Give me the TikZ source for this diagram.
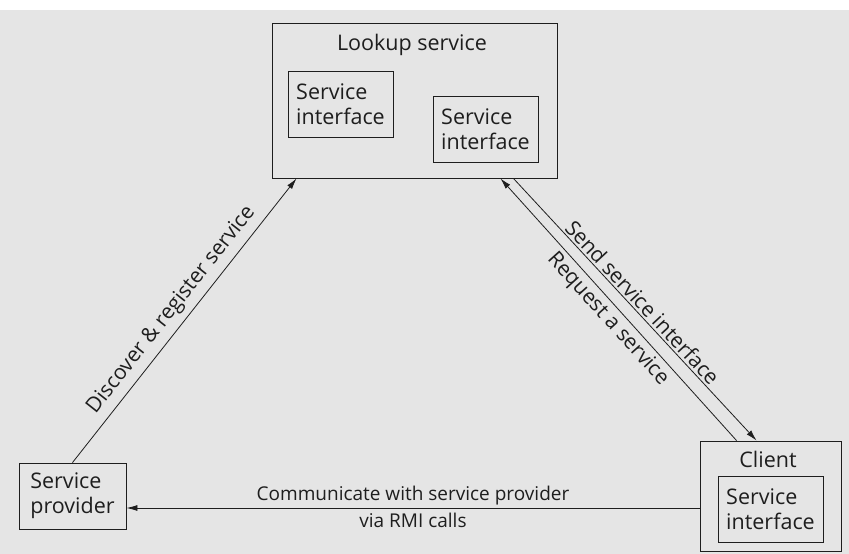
\documentclass[tikz,border=0pt]{standalone}
\usepackage{fontspec}
\setmainfont{Open Sans}
\usetikzlibrary{arrows.meta}
\definecolor{paper}{RGB}{229,229,229}
\definecolor{ink}{RGB}{30,30,30}
\tikzset{
  box/.style={draw=ink, line width=0.9pt, rectangle, inner sep=0pt},
  txt/.style={text=ink, font=\fontsize{21}{25}\selectfont, inner sep=2pt},
  smalltxt/.style={text=ink, font=\fontsize{19}{24}\selectfont, inner sep=2pt},
  inbox/.style={box, minimum width=105pt, minimum height=66pt, align=left, text=ink, font=\fontsize{21.5}{25}\selectfont},
  conn/.style={draw=ink, line width=0.8pt},
  tip/.style={-{Latex[length=11pt,width=6pt]}},
  revtip/.style={{Latex[length=11pt,width=6pt]}-},
}
\begin{document}
\begin{tikzpicture}[x=1pt,y=-1pt]
\useasboundingbox (0,0) rectangle (849,554);
\fill[paper] (0,0) rectangle (849,554);
\fill[white] (0,0) rectangle (849,10);
% lookup service
\node[box, minimum width=285pt, minimum height=155pt] (lookup) at (414.5,100.5) {};
\node[txt, font=\fontsize{21.5}{25}\selectfont] (lookuplbl) at (412,45) {Lookup service};
\node[inbox] (si1) at (340.5,104) {Service\\interface};
\node[inbox] (si2) at (485.5,129) {Service\\interface};
% service provider
\node[inbox, minimum width=107pt] (provider) at (72.5,496) {Service\\provider};
% client
\node[box, minimum width=141pt, minimum height=110pt] (client) at (770.5,496) {};
\node[txt, font=\fontsize{21.5}{25}\selectfont] (clientlbl) at (768,459) {Client};
\node[inbox] (si3) at (770.5,509) {Service\\interface};
% connectors
\draw[conn, tip] (provider.north) -- node[txt, midway, sloped, above=4pt] (lbl1) {Discover \& register service} ([xshift=25pt]lookup.south west);
\draw[conn, tip] ([xshift=-44pt]lookup.south east) -- node[txt, midway, sloped, above=0pt] (lbl2) {Send service interface} ([xshift=57pt]client.north west);
\draw[conn, revtip] ([xshift=-57pt]lookup.south east) -- node[txt, midway, sloped, below=2pt] (lbl3) {Request a service} ([xshift=37pt]client.north west);
\draw[conn, tip] ([yshift=-12pt]client.west) -- node[smalltxt, midway, above=1pt] (lbl4) {Communicate with service provider} node[smalltxt, midway, below=3pt] (lbl5) {via RMI calls} ([yshift=-12pt]provider.east);
\end{tikzpicture}
\end{document}
